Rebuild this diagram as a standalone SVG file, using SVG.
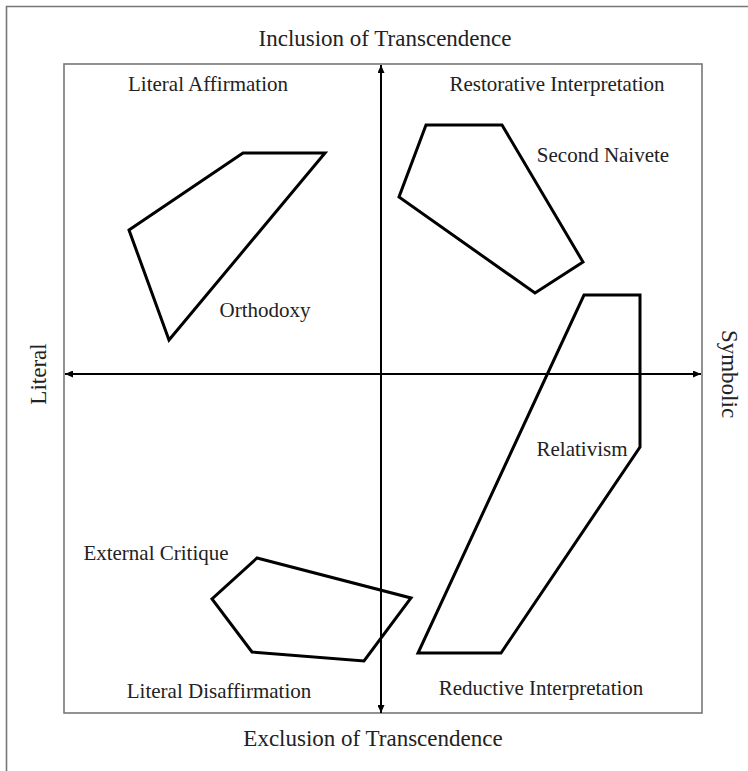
<svg xmlns="http://www.w3.org/2000/svg" width="748" height="771" viewBox="0 0 748 771">
<style>
.t{font-family:"Liberation Serif","Times New Roman",serif;fill:#222}
.ax{font-size:23px}
.lb{font-size:21px}
.poly{fill:none;stroke:#000;stroke-width:3;stroke-linejoin:miter}
.frame{fill:none;stroke:#777;stroke-width:1.6}
.axis{stroke:#000;stroke-width:2}
</style>
<defs>
<marker id="ah" viewBox="0 0 10 10" refX="10" refY="5" markerWidth="8" markerHeight="7" orient="auto-start-reverse" markerUnits="userSpaceOnUse" preserveAspectRatio="none">
<path d="M0,0 L10,5 L0,10 z" fill="#000"/>
</marker>
</defs>
<rect width="748" height="771" fill="#fff"/>
<path class="frame" d="M6.5,771 V6.5 H748"/>
<rect id="box" class="frame" x="64" y="64" width="638" height="649"/>
<g id="connectors">
<line class="axis" x1="381" y1="713" x2="381" y2="65" marker-start="url(#ah)" marker-end="url(#ah)"/>
<line class="axis" x1="65" y1="374" x2="701" y2="374" marker-start="url(#ah)" marker-end="url(#ah)"/>
</g>
<g id="orthodoxy"><polygon class="poly" points="129,230 243,153 325,153 169,340"/><text class="t lb" x="265" y="317" text-anchor="middle">Orthodoxy</text></g>
<g id="second-naivete"><polygon class="poly" points="426,125 502,125 583,262 535,293 399,197"/><text class="t lb" x="603" y="162" text-anchor="middle">Second Naivete</text></g>
<g id="relativism"><polygon class="poly" points="584,295 640,295 640,447 501,653 418,653"/><text class="t lb" x="582" y="456" text-anchor="middle">Relativism</text></g>
<g id="external-critique"><polygon class="poly" points="257,558 411,598 364,661 252,652 212,599"/><text class="t lb" x="156" y="560" text-anchor="middle">External Critique</text></g>
<g id="labels">
<text class="t ax" x="385" y="46" text-anchor="middle">Inclusion of Transcendence</text>
<text class="t ax" x="373" y="746" text-anchor="middle">Exclusion of Transcendence</text>
<text class="t ax" transform="translate(46,374) rotate(-90)" text-anchor="middle">Literal</text>
<text class="t ax" transform="translate(722,374) rotate(90)" text-anchor="middle">Symbolic</text>
<text class="t lb" x="208" y="91" text-anchor="middle">Literal Affirmation</text>
<text class="t lb" x="557" y="91" text-anchor="middle">Restorative Interpretation</text>
<text class="t lb" x="219" y="698" text-anchor="middle">Literal Disaffirmation</text>
<text class="t lb" x="541" y="695" text-anchor="middle">Reductive Interpretation</text>
</g>
</svg>
